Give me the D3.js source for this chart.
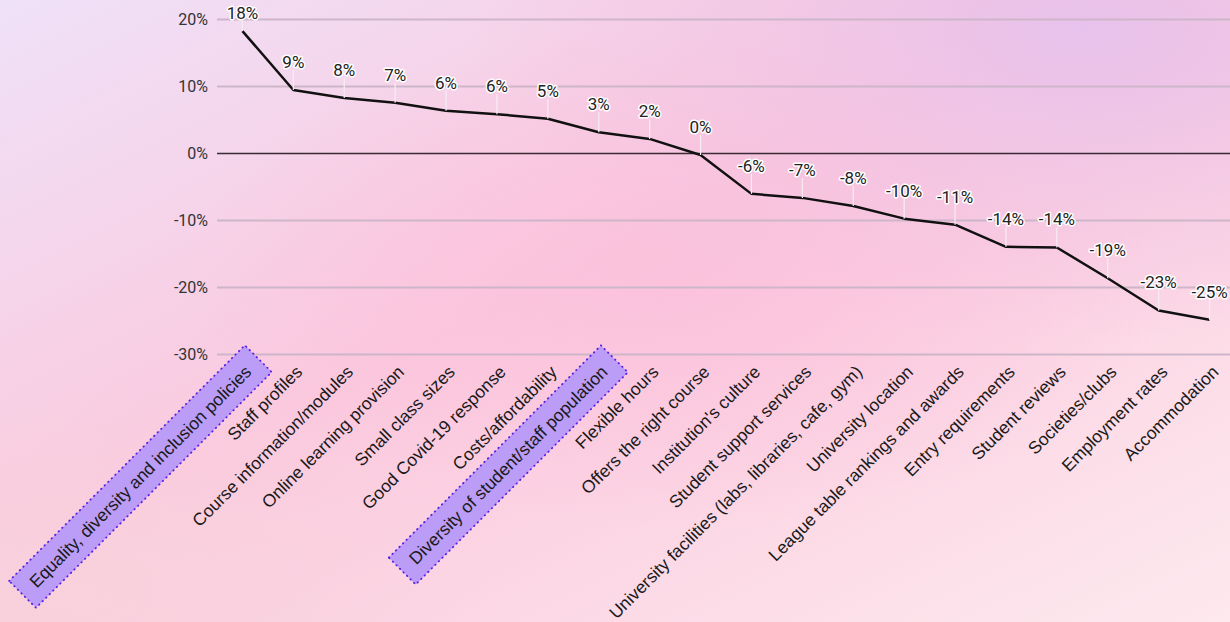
<!DOCTYPE html>
<html>
<head>
<meta charset="utf-8">
<script src="https://cdn.jsdelivr.net/npm/d3@7"></script>
<style>
  html, body { margin: 0; padding: 0; }
  body { width: 1230px; height: 622px; overflow: hidden; }
</style>
</head>
<body>
<div id="chart"></div>
<script>
// categories, in the order of the chart
var categories = [
  "Equality, diversity and inclusion policies",
  "Staff profiles",
  "Course information/modules",
  "Online learning provision",
  "Small class sizes",
  "Good Covid-19 response",
  "Costs/affordability",
  "Diversity of student/staff population",
  "Flexible hours",
  "Offers the right course",
  "Institution's culture",
  "Student support services",
  "University facilities (labs, libraries, cafe, gym)",
  "University location",
  "League table rankings and awards",
  "Entry requirements",
  "Student reviews",
  "Societies/clubs",
  "Employment rates",
  "Accommodation"
]
// net change (%)
var values = [18.2, 9.4, 8.2, 7.5, 6.3, 5.8, 5.1, 3.1, 2.1, -0.3,
              -6.1, -6.7, -7.9, -9.8, -10.7, -14.0, -14.1, -18.7, -23.5, -24.9]
// the labels printed on the chart
var valueLabels = ["18%", "9%", "8%", "7%", "6%", "6%", "5%", "3%", "2%", "0%",
                   "-6%", "-7%", "-8%", "-10%", "-11%", "-14%", "-14%", "-19%", "-23%", "-25%"]
var highlighted = ["Equality, diversity and inclusion policies", "Diversity of student/staff population"]
var yTicks = [20, 10, 0, -10, -20, -30]

var width = 1230
    height = 622
var plotLeft = 217, plotRight = 1230

var svg = d3.select("#chart")
  .append("svg")
    .attr("width", width)
    .attr("height", height)

// background gradients
var defs = svg.append("defs")
var lg = defs.append("linearGradient").attr("id", "bg").attr("x1", 0).attr("y1", 0).attr("x2", 1).attr("y2", 1)
lg.append("stop").attr("offset", "0%").attr("stop-color", "#efe1f8")
lg.append("stop").attr("offset", "45%").attr("stop-color", "#fbc9de")
lg.append("stop").attr("offset", "100%").attr("stop-color", "#fde9ee")
var rg = defs.append("radialGradient").attr("id", "tr").attr("cx", "88%").attr("cy", "5%").attr("r", "50%")
rg.append("stop").attr("offset", "0%").attr("stop-color", "#e7c2ec").attr("stop-opacity", 1)
rg.append("stop").attr("offset", "100%").attr("stop-color", "#f3c0e0").attr("stop-opacity", 0)
var rg2 = defs.append("radialGradient").attr("id", "mid").attr("cx", "55%").attr("cy", "45%").attr("r", "40%")
rg2.append("stop").attr("offset", "0%").attr("stop-color", "#fbbfdb").attr("stop-opacity", 0.8)
rg2.append("stop").attr("offset", "100%").attr("stop-color", "#fbbfdb").attr("stop-opacity", 0)
var rg3 = defs.append("radialGradient").attr("id", "bl").attr("cx", "5%").attr("cy", "95%").attr("r", "35%")
rg3.append("stop").attr("offset", "0%").attr("stop-color", "#f8d2dc").attr("stop-opacity", 0.9)
rg3.append("stop").attr("offset", "100%").attr("stop-color", "#f8d2dc").attr("stop-opacity", 0)

svg.append("rect").attr("width", width).attr("height", height).attr("fill", "url(#bg)")
svg.append("rect").attr("width", width).attr("height", height).attr("fill", "url(#mid)")
svg.append("rect").attr("width", width).attr("height", height).attr("fill", "url(#tr)")
svg.append("rect").attr("width", width).attr("height", height).attr("fill", "url(#bl)")

// scales
var x = d3.scalePoint()
  .domain(categories)
  .range([plotLeft, plotLeft + 20 * 50.9])
  .padding(0.5)
var y = d3.scaleLinear()
  .domain([-30, 20])
  .range([354, 19])

// gridlines + y labels
var yAxis = d3.axisLeft(y)
  .tickValues(yTicks)
  .tickSize(-(plotRight - plotLeft))
  .tickPadding(9)
  .tickFormat(function(d) { return d + "%" })
var gy = svg.append("g")
  .attr("transform", "translate(" + plotLeft + ",0)")
  .call(yAxis)
gy.select(".domain").remove()
gy.selectAll(".tick line")
  .attr("stroke", function(d) { return d == 0 ? "#3a2a34" : "#cdb6c9" })
  .attr("stroke-width", function(d) { return d == 0 ? 1.3 : 2 })
gy.selectAll(".tick text")
  .attr("fill", "#333")
  .style("font-family", "Roboto, 'Liberation Sans', sans-serif")
  .style("font-size", "16px")

// x labels, rotated
var gx = svg.append("g")
var lab = gx.selectAll("g.xl")
  .data(categories)
  .enter()
  .append("g")
    .attr("class", "xl")
    .attr("transform", function(d) { return "translate(" + (x(d) + 10) + ",373) rotate(-45)" })
lab.append("text")
  .attr("text-anchor", "end")
  .attr("fill", "#1a1a1a")
  .style("font-family", "'Liberation Sans', Arial, sans-serif")
  .style("font-size", "17.5px")
  .text(function(d) { return d })
lab.filter(function(d) { return highlighted.indexOf(d) >= 0 })
  .each(function() {
    var g = d3.select(this)
    var bb = g.select("text").node().getBBox()
    g.insert("rect", "text")
      .attr("x", bb.x - 14)
      .attr("y", bb.y - 9)
      .attr("width", bb.width + 28)
      .attr("height", bb.height + 18)
      .attr("fill", "#bb9cf7")
      .attr("stroke", "#5a1ee6")
      .attr("stroke-width", 1.8)
      .attr("stroke-dasharray", "0.5,4.5")
      .attr("stroke-linecap", "round")
  })

// line
var line = d3.line()
  .x(function(d, i) { return x(categories[i]) })
  .y(function(d) { return y(d) })
svg.append("path")
  .datum(values)
  .attr("d", line)
  .attr("fill", "none")
  .attr("stroke", "#111")
  .attr("stroke-width", 2.5)
  .attr("stroke-linejoin", "round")

// value labels with leader lines
var lbl = svg.append("g")
  .selectAll("g")
  .data(values)
  .enter()
  .append("g")
lbl.append("line")
  .attr("x1", function(d, i) { return x(categories[i]) })
  .attr("x2", function(d, i) { return x(categories[i]) })
  .attr("y1", function(d) { return y(d) })
  .attr("y2", function(d) { return Math.max(13, y(d) - 28) + 8 })
  .attr("stroke", "#f6eef4")
  .attr("stroke-width", 1.2)
lbl.append("text")
  .attr("x", function(d, i) { return x(categories[i]) })
  .attr("y", function(d) { return Math.max(13, y(d) - 28) })
  .attr("dy", "0.35em")
  .attr("text-anchor", "middle")
  .attr("fill", "#222")
  .attr("stroke", "#fff")
  .attr("stroke-width", 3)
  .attr("stroke-linejoin", "round")
  .attr("paint-order", "stroke")
  .style("font-family", "Roboto, sans-serif")
  .style("font-size", "17px")
  .text(function(d, i) { return valueLabels[i] })
</script>
</body>
</html>
